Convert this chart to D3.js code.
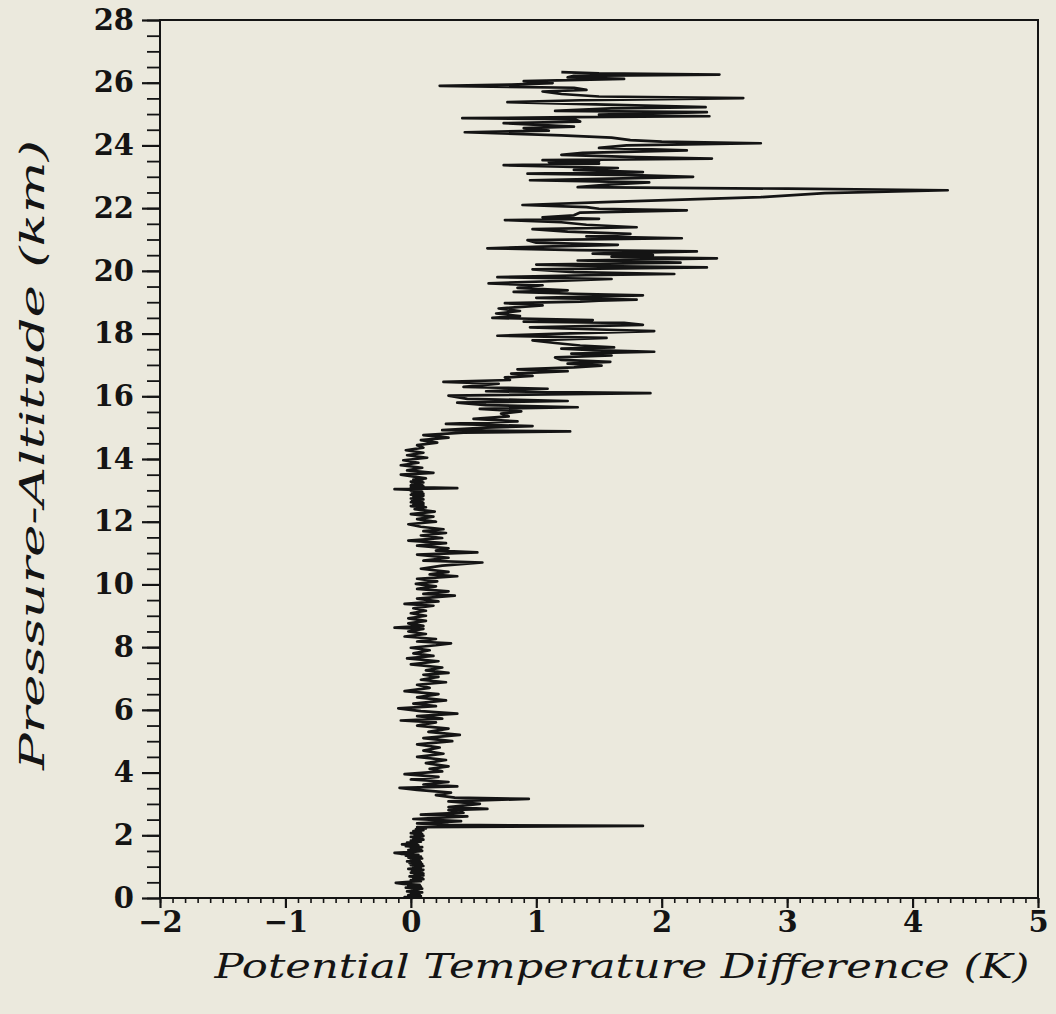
<!DOCTYPE html>
<html>
<head>
<meta charset="utf-8">
<script src="https://cdn.jsdelivr.net/npm/d3@7"></script>
<style>
html, body { margin: 0; padding: 0; background: #ebe9dd; }
svg { display: block; }
</style>
</head>
<body>
<svg id="chart" width="1056" height="1014"></svg>
<script>
// tick values
var xMajor = [-2, -1, 0, 1, 2, 3, 4, 5];
var yMajor = [0, 2, 4, 6, 8, 10, 12, 14, 16, 18, 20, 22, 24, 26, 28];
var xMinor = d3.range(-20, 51).map(function (i) { return i / 10; });
var yMinor = d3.range(0, 57).map(function (i) { return i / 2; });

// [pressure-altitude (km), potential temperature difference (K)]
var lowerProfile = [
	[0.0,0.02],[0.03,-0.05],[0.06,0.08],[0.09,-0.02],[0.12,0.07],[0.15,0.0],[0.18,0.09],[0.21,-0.03],
	[0.24,0.06],[0.27,0.01],[0.3,0.09],[0.33,-0.04],[0.36,0.08],[0.39,-0.02],[0.42,0.07],[0.45,-0.06],
	[0.48,-0.12],[0.51,-0.04],[0.54,0.08],[0.57,0.0],[0.6,0.1],[0.63,0.02],[0.66,0.09],[0.69,-0.01],
	[0.72,0.1],[0.75,0.03],[0.78,0.1],[0.81,0.0],[0.84,0.09],[0.87,0.01],[0.9,0.1],[0.93,-0.02],
	[0.96,0.08],[0.99,0.02],[1.02,0.1],[1.05,0.0],[1.08,0.09],[1.11,-0.01],[1.14,0.08],[1.17,-0.03],
	[1.2,0.07],[1.23,0.0],[1.26,0.09],[1.29,-0.02],[1.32,0.08],[1.35,-0.04],[1.38,0.06],[1.41,-0.08],
	[1.44,-0.13],[1.47,0.02],[1.5,0.09],[1.53,-0.02],[1.56,0.08],[1.59,0.0],[1.62,0.09],[1.65,-0.04],
	[1.68,0.06],[1.71,-0.07],[1.74,0.05],[1.77,-0.03],[1.8,0.08],[1.83,0.0],[1.86,0.1],[1.89,0.02],
	[1.92,0.09],[1.95,0.0],[1.98,0.1],[2.01,0.03],[2.04,0.09],[2.07,0.0],[2.1,0.08],[2.13,0.02],
	[2.16,0.1],[2.19,0.04],[2.22,0.12],[2.26,0.05],[2.3,1.85],
	[2.33,0.3],[2.38,0.05],[2.45,0.4],[2.52,0.02],[2.6,0.45],[2.66,0.08],[2.72,0.42],[2.8,0.3],
	[2.84,0.61],[2.9,0.3],[3.0,0.55],[3.08,0.3],[3.16,0.94],[3.2,0.35],[3.28,0.2],[3.36,0.32],
	[3.45,0.05],[3.51,-0.09],[3.56,0.37],[3.62,0.1],[3.7,0.3],[3.78,0.0],[3.86,0.22],[3.95,-0.05],
	[4.04,0.25],[4.12,0.15],[4.2,0.3],[4.3,0.12],[4.4,0.28],[4.5,0.05],[4.6,0.26],[4.7,0.1],
	[4.8,0.23],[4.9,0.05],[5.0,0.33],[5.1,0.1],[5.2,0.39],[5.3,0.14],[5.4,0.3],[5.5,0.05],
	[5.6,0.2],[5.66,-0.08],[5.72,0.25],[5.8,0.05],[5.88,0.37],[5.96,0.08],[6.05,-0.1],[6.12,0.2],
	[6.2,0.02],[6.3,0.28],[6.4,0.05],[6.5,0.22],[6.6,-0.05],[6.7,0.15],[6.8,0.05],[6.88,0.28],
	[6.96,0.08],[7.05,0.22],[7.12,0.1],[7.18,0.3],[7.26,0.12],[7.35,0.25],[7.45,0.0],[7.55,0.22],
	[7.64,-0.03],[7.72,0.18],[7.8,0.02],[7.9,0.15],[7.98,0.0],[8.06,0.2],[8.12,0.32],[8.18,0.05],
	[8.26,0.2],[8.34,-0.05],[8.42,0.12],[8.5,-0.02],[8.58,0.1],[8.62,-0.13],[8.68,0.1],[8.76,-0.02],
	[8.84,0.12],[8.92,-0.02],[9.0,0.12],[9.08,0.0],[9.16,0.12],[9.24,0.02],[9.32,0.18],[9.38,-0.05],
	[9.46,0.22],[9.55,0.05],[9.64,0.35],[9.7,0.1],[9.78,0.3],[9.86,0.05],[9.94,0.2],[10.02,0.04],
	[10.1,0.21],[10.18,0.05],[10.26,0.37],[10.32,0.15],[10.4,0.3],[10.5,0.08],[10.6,0.25],[10.7,0.57],
	[10.76,0.1],[10.85,0.3],[10.95,0.05],[11.02,0.53],[11.08,0.2],[11.15,0.3],[11.24,0.05],[11.32,0.28],
	[11.4,-0.02],[11.48,0.25],[11.56,0.08],[11.64,0.28],[11.7,0.1],[11.76,0.26],[11.84,0.08],[11.92,-0.02],
	[12.0,0.2],[12.08,0.05],[12.16,0.18],[12.24,0.0],[12.32,0.19],[12.4,0.03],[12.46,0.12],[12.5,0.0],
	[12.53,0.1],[12.56,0.02],[12.59,0.1],[12.62,0.0],[12.65,0.09],[12.68,0.01],[12.71,0.1],[12.74,0.0],
	[12.77,0.09],[12.8,0.02],[12.83,0.1],[12.86,0.0],[12.89,0.1],[12.92,0.01],[12.95,0.09],[12.98,0.0],
	[13.01,0.08],[13.04,-0.13],[13.07,0.37],[13.1,0.0],[13.13,0.1],[13.16,0.0],[13.19,0.09],[13.22,0.01],
	[13.25,0.1],[13.28,0.0],[13.31,0.09],[13.34,0.02],[13.38,0.12],
	[13.5,-0.08],[13.56,0.18],[13.64,-0.03],[13.72,0.09],[13.8,-0.08],[13.88,0.06],[13.96,-0.06],[14.04,0.13],
	[14.12,-0.03],[14.2,0.1],[14.28,-0.04],[14.36,0.1],[14.44,0.05],[14.52,0.21],[14.6,0.08],[14.68,0.3],
	[14.76,0.1],[14.84,0.42],[14.88,1.27],[14.92,0.25]
];

var upperProfile = [
	[15.0,0.6],[15.05,0.97],[15.12,0.28],[15.2,0.85],[15.28,0.5],[15.36,0.78],[15.45,0.72],[15.52,0.88],
	[15.6,0.55],[15.65,1.33],[15.72,0.6],[15.8,0.37],[15.85,1.25],[15.92,0.45],[16.02,0.3],[16.1,1.91],
	[16.16,0.6],[16.24,1.09],[16.3,0.42],[16.4,0.7],[16.46,0.26],[16.52,0.79],[16.6,0.75],[16.65,0.97],
	[16.72,0.8],[16.8,1.25],[16.86,0.85],[16.92,1.3],[16.98,1.52],[17.04,1.25],[17.1,1.59],[17.16,1.2],
	[17.24,1.15],[17.3,1.6],[17.36,1.28],[17.42,1.94],[17.47,1.45],[17.52,1.2],[17.56,1.62],[17.62,1.35],
	[17.7,1.15],[17.78,0.97],[17.86,1.56],[17.93,0.69],[18.0,1.2],[18.08,1.94],[18.13,1.5],[18.2,0.95],
	[18.28,1.85],[18.34,1.7],[18.38,0.9],[18.43,1.45],[18.5,0.65],[18.56,0.87],[18.64,0.68],[18.72,0.87],
	[18.8,0.7],[18.9,1.05],[18.97,0.75],[19.02,1.35],[19.05,1.5],[19.08,1.8],[19.14,1.0],[19.22,1.85],
	[19.27,1.3],[19.33,0.82],[19.38,1.25],[19.46,0.85],[19.54,1.05],[19.6,0.62],[19.66,1.05],[19.74,1.6],
	[19.8,0.69],[19.86,1.4],[19.9,2.1],[19.96,1.3],[20.05,0.97],[20.11,2.36],[20.15,1.5],[20.2,1.0],
	[20.26,2.15],[20.33,1.33],[20.4,2.44],[20.45,1.6],[20.5,1.93],[20.55,1.45],[20.62,2.28],[20.66,1.33],
	[20.72,0.61],[20.77,1.05],[20.83,1.65],[20.9,1.0],[20.98,0.93],[21.04,2.16],[21.1,1.4],[21.18,1.75],
	[21.25,1.25],[21.33,0.97],[21.39,1.8],[21.47,1.4],[21.55,1.2],[21.62,0.75],[21.66,1.5],[21.71,1.05],
	[21.77,1.3],[21.86,1.35],[21.93,2.2],[21.98,1.5],[22.03,1.4],[22.1,0.89],[22.2,1.6],[22.35,2.79],
	[22.48,3.3],[22.57,4.28],[22.62,3.0],[22.67,1.33],[22.76,1.6],[22.82,1.9],[22.89,0.95],[22.94,1.6],
	[23.0,2.25],[23.05,1.77],[23.1,0.93],[23.15,1.85],[23.22,1.3],[23.28,1.65],[23.37,0.74],[23.42,1.5],
	[23.47,1.1],[23.5,1.5],[23.53,1.05],[23.58,2.4],[23.63,1.8],[23.7,1.2],[23.76,1.37],[23.84,2.2],
	[23.92,1.5],[24.0,1.72],[24.07,2.79],[24.12,2.0],[24.17,1.75],[24.25,1.6],[24.32,1.2],[24.42,0.43],
	[24.47,1.1],[24.55,0.9],[24.6,1.3],[24.71,0.74],[24.76,1.35],[24.84,1.3],[24.87,0.41],[24.9,1.3],
	[24.93,2.38],[24.98,1.5],[25.06,2.36],[25.1,1.15],[25.18,1.6],[25.22,2.35],[25.3,1.55],[25.38,0.77],
	[25.44,1.35],[25.51,2.65],[25.56,1.5],[25.64,1.2],[25.72,1.05],[25.77,1.4],[25.84,1.3],[25.9,0.23],
	[25.94,0.8],[25.99,1.13],[26.05,0.9],[26.12,1.7],[26.17,1.25],[26.22,1.3],[26.26,2.46],[26.3,1.5],
	[26.34,1.2]
];

var profile = lowerProfile.concat(upperProfile);

var svg = d3.select("#chart");
var ink = "#141414";
var serif = "'DejaVu Serif', 'Liberation Serif', serif";

var x = d3.scaleLinear().domain([-2, 5]).range([160, 1038]);
var y = d3.scaleLinear().domain([0, 28]).range([898, 20]);

// frame
svg.append("rect")
	.attr("x", x(-2)).attr("y", y(28))
	.attr("width", x(5) - x(-2)).attr("height", y(0) - y(28))
	.attr("fill", "none").attr("stroke", ink).attr("stroke-width", 2);

function styleAxis(g, w) {
	g.select(".domain").remove();
	g.selectAll(".tick line").attr("stroke", ink).attr("stroke-width", w);
	g.selectAll("text")
		.attr("fill", ink)
		.attr("font-family", serif)
		.attr("font-weight", "bold")
		.attr("font-size", 29);
}

// minor ticks
svg.append("g").attr("transform", "translate(0," + y(0) + ")")
	.call(d3.axisBottom(x).tickValues(xMinor).tickSize(5).tickFormat(""))
	.call(styleAxis, 1.6);
svg.append("g").attr("transform", "translate(" + x(-2) + ",0)")
	.call(d3.axisLeft(y).tickValues(yMinor).tickSize(13).tickFormat(""))
	.call(styleAxis, 1.8);

// major ticks + labels
svg.append("g").attr("transform", "translate(0," + y(0) + ")")
	.call(d3.axisBottom(x).tickValues(xMajor).tickSize(10).tickPadding(3).tickFormat(d3.format("d")))
	.call(styleAxis, 2.2);
svg.append("g").attr("transform", "translate(" + x(-2) + ",0)")
	.call(d3.axisLeft(y).tickValues(yMajor).tickSize(18).tickPadding(8).tickFormat(d3.format("d")))
	.call(styleAxis, 2.2);

// the profile trace
var line = d3.line()
	.x(function (d) { return x(d[1]); })
	.y(function (d) { return y(d[0]); });

svg.append("path")
	.datum(profile)
	.attr("d", line)
	.attr("fill", "none")
	.attr("stroke", ink)
	.attr("stroke-width", 2.7)
	.attr("stroke-linejoin", "round");

// axis titles
svg.append("text")
	.attr("x", 622).attr("y", 978)
	.attr("text-anchor", "middle")
	.attr("textLength", 815).attr("lengthAdjust", "spacingAndGlyphs")
	.attr("font-family", serif)
	.attr("font-style", "italic")
	.attr("font-size", 34)
	.attr("fill", ink)
	.text("Potential Temperature Difference (K)");

svg.append("text")
	.attr("transform", "translate(44,455) rotate(-90)")
	.attr("text-anchor", "middle")
	.attr("textLength", 630).attr("lengthAdjust", "spacingAndGlyphs")
	.attr("font-family", serif)
	.attr("font-style", "italic")
	.attr("font-size", 34)
	.attr("fill", ink)
	.text("Pressure-Altitude (km)");
</script>
</body>
</html>
